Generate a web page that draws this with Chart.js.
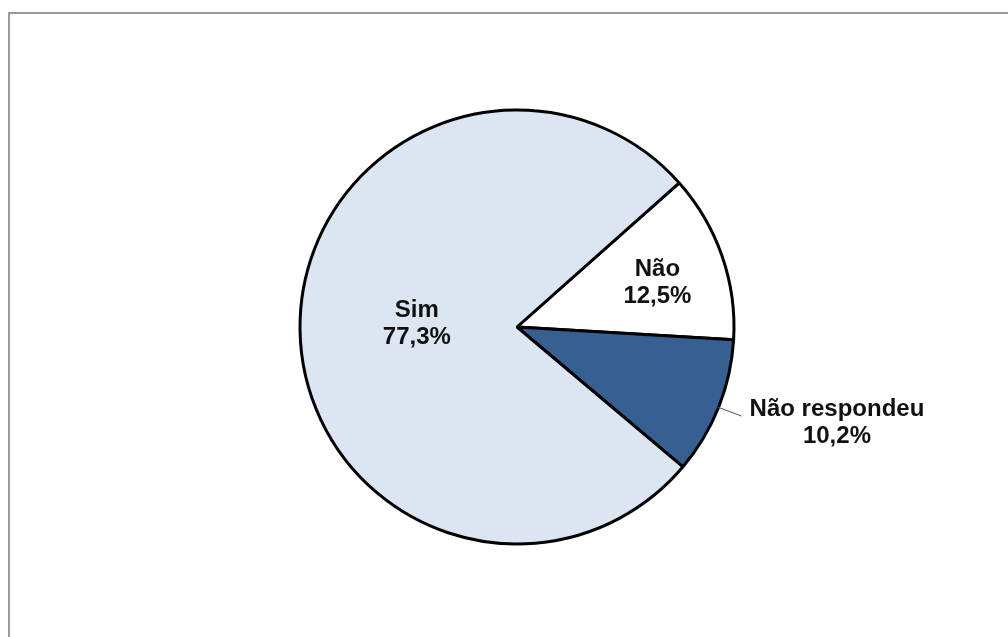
<!DOCTYPE html>
<html>
<head>
<meta charset="utf-8">
<script src="https://cdn.jsdelivr.net/npm/chart.js@4.4.0/dist/chart.umd.min.js"></script>
<style>
  html, body { margin: 0; padding: 0; background: #fff; overflow: hidden; }
  #wrap { position: relative; width: 1008px; height: 637px; }
  #frame { position: absolute; left: 8px; top: 12px; width: 1100px; height: 700px;
           border: 2px solid #9a9a9a; box-sizing: border-box; pointer-events: none; }
  canvas { position: absolute; left: 0; top: 0; }
</style>
</head>
<body>
<div id="wrap">
  <canvas id="c" width="1008" height="637"></canvas>
  <div id="frame"></div>
</div>
<script>
// Survey answers and their shares (%)
const categories = ['Não', 'Não respondeu', 'Sim'];
const percentages = [12.5, 10.2, 77.3];
const sliceColors = ['#ffffff', '#376092', '#dce6f2'];

const fmt = v => v.toFixed(1).replace('.', ',') + '%';

// Label placement per slice: radial factor, small nudge, and whether it sits outside with a leader line
const labelPlacement = [
  { r: 0.68, dx: 1, dy: 4, outside: false },
  { r: 1.0, dx: 0, dy: 0, outside: true },
  { r: 0.48, dx: 4, dy: -4, outside: false }
];

const sliceLabels = {
  id: 'sliceLabels',
  afterDatasetsDraw(chart) {
    const ctx = chart.ctx;
    const meta = chart.getDatasetMeta(0);
    ctx.save();
    ctx.font = 'bold 24px "Liberation Sans", Arial, sans-serif';
    ctx.fillStyle = '#111';
    ctx.textAlign = 'center';
    ctx.textBaseline = 'middle';
    meta.data.forEach((arc, i) => {
      const mid = (arc.startAngle + arc.endAngle) / 2;
      const R = arc.outerRadius;
      const p = labelPlacement[i];
      if (p.outside) {
        const ex = arc.x + Math.cos(mid) * (R - 1);
        const ey = arc.y + Math.sin(mid) * (R - 1);
        const lx = ex + 24, ly = ey + 9;
        ctx.strokeStyle = '#555';
        ctx.lineWidth = 1;
        ctx.beginPath();
        ctx.moveTo(ex, ey);
        ctx.lineTo(lx, ly);
        ctx.stroke();
        ctx.textAlign = 'left';
        const w1 = ctx.measureText(categories[i]).width;
        const left = lx + 8;
        ctx.fillText(categories[i], left, ly - 7);
        ctx.textAlign = 'center';
        ctx.fillText(fmt(percentages[i]), left + w1 / 2, ly + 20);
      } else {
        const x = arc.x + Math.cos(mid) * R * p.r + p.dx;
        const y = arc.y + Math.sin(mid) * R * p.r + p.dy;
        ctx.fillText(categories[i], x, y - 13.5);
        ctx.fillText(fmt(percentages[i]), x, y + 13.5);
      }
    });
    ctx.restore();
  }
};

new Chart(document.getElementById('c'), {
  type: 'pie',
  data: {
    labels: categories,
    datasets: [{
      data: percentages,
      backgroundColor: sliceColors,
      borderColor: '#000',
      borderWidth: 3
    }]
  },
  options: {
    responsive: false,
    animation: false,
    rotation: 48.4,
    radius: 217,
    layout: { padding: { left: 26, right: 0, top: 17, bottom: 0 } },
    plugins: {
      legend: { display: false },
      tooltip: { enabled: false }
    }
  },
  plugins: [sliceLabels]
});
</script>
</body>
</html>
